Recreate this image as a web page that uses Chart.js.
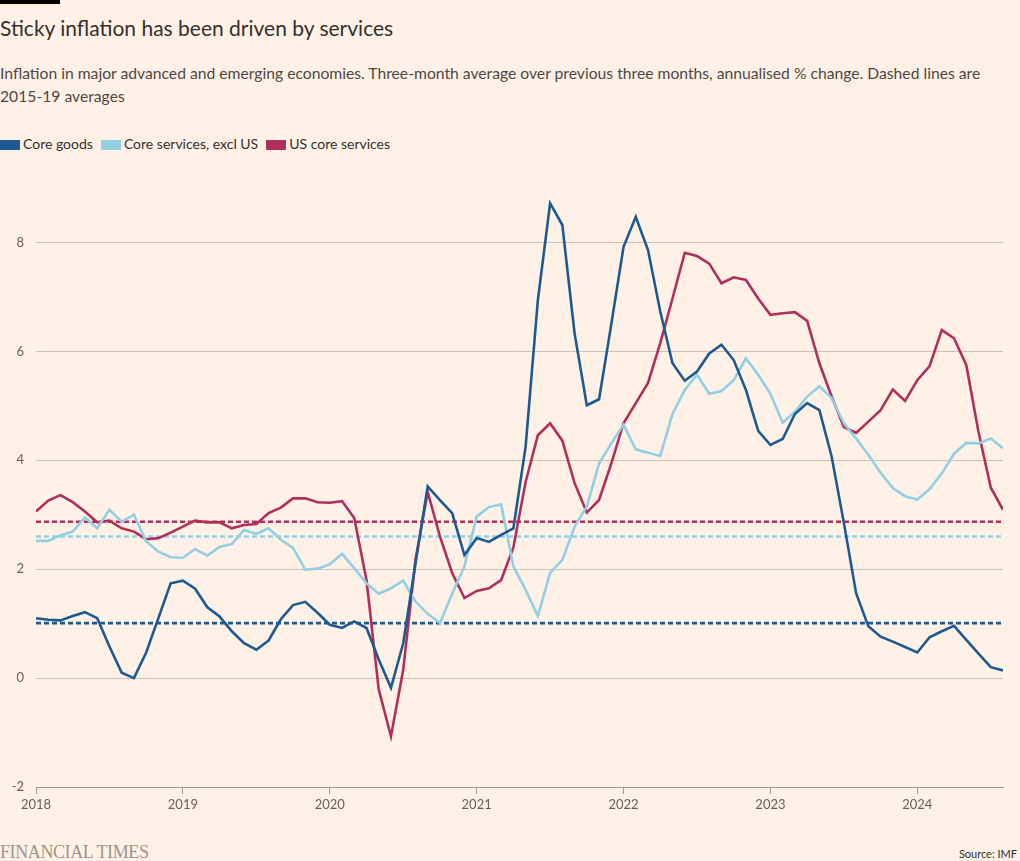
<!DOCTYPE html>
<html><head><meta charset="utf-8">
<script src="https://cdn.jsdelivr.net/npm/chart.js@4.4.1/dist/chart.umd.min.js"></script>
<style>
html,body{margin:0;padding:0;background:#fff1e5;width:1020px;height:861px;overflow:hidden;font-family:Lato,'Open Sans',sans-serif;color:#33302e;}
#bar{position:absolute;left:0;top:0;width:60px;height:4px;background:#000;}
#title{position:absolute;left:0;top:15px;font-size:21px;line-height:26px;white-space:nowrap;color:#33302e;}
#sub{position:absolute;left:0;top:62px;font-size:15.7px;line-height:23px;white-space:nowrap;color:#4d4845;}
#legend{position:absolute;left:0;top:136px;font-size:14px;line-height:16px;white-space:nowrap;color:#33302e;}
#legend span.item{display:inline-block;margin-right:8px;}
#legend span.sw{display:inline-block;width:20px;height:10px;vertical-align:-1px;margin-right:3px;}
#chartwrap{position:absolute;left:0;top:160px;}
#ft{position:absolute;left:0;top:841px;font-family:'Liberation Serif','DejaVu Serif',serif;font-size:18px;line-height:22px;color:#9e958d;letter-spacing:-0.4px;}
#src{position:absolute;right:3px;top:846px;font-size:11px;line-height:16px;color:#33302e;}
</style></head>
<body>
<div id="bar"></div>
<div id="title">Sticky inflation has been driven by services</div>
<div id="sub">Inflation in major advanced and emerging economies. Three-month average over previous three months, annualised % change. Dashed lines are<br>2015-19 averages</div>
<div id="legend"></div>
<div id="chartwrap"><canvas id="c" width="1020" height="668"></canvas></div>
<div id="ft">FINANCIAL TIMES</div>
<div id="src">Source: IMF</div>
<script>
// Monthly data, Jan 2018 - Aug 2024
const years = ['2018','2019','2020','2021','2022','2023','2024'];
const yTicks = [-2, 0, 2, 4, 6, 8];
const seriesNames = ['Core goods', 'Core services, excl US', 'US core services'];
const coreGoods = [1.10,1.07,1.06,1.14,1.21,1.10,0.58,0.10,0.00,0.47,
  1.10,1.74,1.79,1.64,1.30,1.13,0.86,0.64,0.52,0.69,
  1.08,1.34,1.40,1.20,0.98,0.92,1.04,0.92,0.34,-0.18,
  0.64,2.10,3.52,3.27,3.03,2.26,2.57,2.50,2.63,2.75,
  4.25,6.94,8.72,8.32,6.33,5.01,5.12,6.50,7.92,8.47,
  7.86,6.73,5.78,5.46,5.63,5.96,6.12,5.84,5.29,4.54,
  4.28,4.39,4.85,5.05,4.92,4.07,2.85,1.56,0.95,0.76,
  0.67,0.57,0.47,0.75,0.86,0.96,0.70,0.45,0.20,0.14];
const servicesExUS = [2.52,2.52,2.62,2.69,2.95,2.75,3.09,2.87,3.00,2.51,
  2.32,2.22,2.21,2.37,2.25,2.41,2.46,2.72,2.65,2.75,
  2.54,2.39,1.99,2.01,2.09,2.28,2.02,1.74,1.55,1.65,
  1.79,1.41,1.18,1.01,1.55,2.05,2.97,3.14,3.19,2.05,
  1.62,1.14,1.93,2.17,2.78,3.15,3.94,4.31,4.65,4.20,
  4.14,4.08,4.85,5.29,5.57,5.22,5.27,5.47,5.87,5.57,
  5.22,4.69,4.89,5.17,5.36,5.14,4.68,4.40,4.10,3.77,
  3.49,3.34,3.28,3.47,3.76,4.12,4.32,4.31,4.40,4.22];
const usCoreServices = [3.06,3.26,3.36,3.23,3.06,2.86,2.89,2.75,2.69,2.55,
  2.57,2.67,2.78,2.89,2.86,2.86,2.75,2.81,2.83,3.03,
  3.13,3.30,3.30,3.23,3.22,3.25,2.94,1.80,-0.21,-1.07,
  0.15,2.17,3.42,2.60,1.93,1.47,1.60,1.65,1.80,2.40,
  3.60,4.46,4.68,4.36,3.58,3.04,3.27,3.94,4.68,5.05,
  5.42,6.15,6.97,7.81,7.75,7.61,7.25,7.36,7.31,6.97,
  6.67,6.70,6.72,6.56,5.78,5.17,4.61,4.50,4.71,4.92,
  5.30,5.09,5.47,5.73,6.39,6.24,5.75,4.52,3.50,3.09];
// 2015-19 averages
const averages = [1.01, 2.60, 2.87];
const colors = ['#1d5a92', '#92cfe5', '#b12f5d'];

const allSeries = [coreGoods, servicesExUS, usCoreServices];
const nPts = coreGoods.length;

// legend
const lg = document.getElementById('legend');
seriesNames.forEach((n, i) => {
  const s = document.createElement('span'); s.className = 'item';
  s.innerHTML = '<span class="sw" style="background:' + colors[i] + '"></span>' + n;
  lg.appendChild(s);
});

const datasets = [];
allSeries.forEach((arr, i) => {
  datasets.push({
    label: seriesNames[i],
    data: arr.map((v, k) => ({x: k, y: v})),
    borderColor: colors[i], borderWidth: 2.6, pointRadius: 0, tension: 0, fill: false
  });
});
averages.forEach((a, i) => {
  datasets.push({
    label: seriesNames[i] + ' avg',
    data: [{x: 0, y: a}, {x: nPts - 1, y: a}],
    borderColor: colors[i], borderWidth: 2.6, borderDash: [5, 3], pointRadius: 0, fill: false
  });
});

const tickFont = {family: "Lato, 'Open Sans', sans-serif", size: 13};
new Chart(document.getElementById('c'), {
  type: 'line',
  data: {datasets},
  options: {
    responsive: false, animation: false,
    layout: {padding: {left: 0, right: 17, top: 6, bottom: 0}},
    plugins: {legend: {display: false}, tooltip: {enabled: false}},
    scales: {
      x: {
        type: 'linear', min: 0, max: nPts - 1,
        afterBuildTicks: s => { s.ticks = years.map((y, i) => ({value: i * 12})); },
        afterFit: s => { s.height = 41; },
        ticks: {callback: v => years[Math.round(v / 12)], color: '#66605c', font: tickFont, padding: 3, maxRotation: 0, autoSkip: false},
        grid: {drawOnChartArea: false, drawTicks: true, tickLength: 7, color: '#a3978d'},
        border: {display: true, color: '#a3978d', width: 1}
      },
      y: {
        min: -2, max: 9.15,
        afterBuildTicks: s => { s.ticks = yTicks.map(v => ({value: v})); },
        afterFit: s => { s.width = 36; },
        ticks: {callback: v => String(v), color: '#66605c', font: tickFont, padding: 12},
        grid: {drawTicks: false, color: ctx => (ctx.tick && ctx.tick.value === -2) ? 'rgba(0,0,0,0)' : '#cdc1b6', lineWidth: 1},
        border: {display: false}
      }
    }
  }
});
</script>
</body></html>
